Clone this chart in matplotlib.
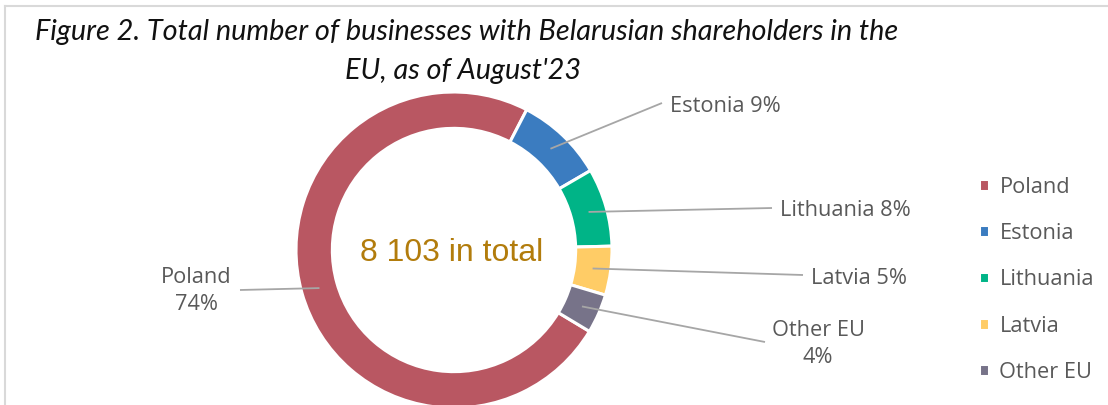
import numpy as np
import matplotlib
matplotlib.use("Agg")
import matplotlib.pyplot as plt

# data
countries = ["Poland", "Estonia", "Lithuania", "Latvia", "Other EU"]
shares = [74, 9, 8, 5, 4]
colors = ["#B95762", "#3B7CC0", "#00B487", "#FFCC66", "#777389"]
total_text = "8 103 in total"
title_lines = ["Figure 2. Total number of businesses with Belarusian shareholders in the",
               "EU, as of August'23"]

W, H = 1108, 405
fig = plt.figure(figsize=(W / 100, H / 100), dpi=100)
ax = fig.add_axes([0, 0, 1, 1])

# donut, in pixel-like data units (y up)
cx, cy, r = 454, H - 250, 158
ring = 0.23
start = -31  # first slice (Poland) starts here, clockwise

wedges, _ = ax.pie(shares, colors=colors, startangle=start, counterclock=False,
                   center=(cx, cy), radius=r,
                   wedgeprops=dict(width=r * ring, edgecolor="white", linewidth=2.2))

ax.set_xlim(0, W)
ax.set_ylim(0, H)
ax.set_aspect("auto")
ax.axis("off")

txt_color = "#595959"
line_color = "#A6A6A6"
lab_font = "Open Sans"
lab_size = 15.7

# label text position, leader end point, alignment
labels = [
    ("Poland\n74%", (196, 291), (240, 290), "center"),
    ("Estonia 9%", (670, 107), (662, 103), "left"),
    ("Lithuania 8%", (780, 211), (772, 208), "left"),
    ("Latvia 5%", (811, 278), (803, 275), "left"),
    ("Other EU\n4%", (818, 344), (765, 342), "center"),
]

for w, (lab, (tx, ty), (ex, ey), ha) in zip(wedges, labels):
    mid = np.deg2rad((w.theta1 + w.theta2) / 2)
    rr = r * (1 - ring / 2)
    px, py = cx + rr * np.cos(mid), cy + rr * np.sin(mid)
    ax.plot([px, ex], [py, H - ey], color=line_color, lw=1.3, solid_capstyle="butt")
    ax.text(tx, H - ty, lab, ha=ha, va="center", color=txt_color,
            fontsize=lab_size, family=lab_font, linespacing=1.35)

ax.text(cx - 2, H - 253, total_text, ha="center", va="center", color="#B27C0C",
        fontsize=23, family=["Liberation Sans Narrow", "Liberation Sans"])

for (tx, ty), line in zip([(467, 32), (463, 71)], title_lines):
    ax.text(tx, H - ty, line, ha="center", va="center", fontsize=20.8,
            style="italic", family="Lato", color="#111111")

# frame lines
ax.plot([5, W], [H - 6, H - 6], color="#D9D9D9", lw=1.5)
ax.plot([5, 5], [0, H - 6], color="#D9D9D9", lw=1.5)

# legend
leg = ax.legend(wedges, countries, loc="upper left", bbox_to_anchor=(970 / W, 1 - 168 / H),
                frameon=False, fontsize=lab_size, handlelength=0.45, handleheight=0.45,
                handletextpad=0.5, labelspacing=1.16, borderaxespad=0)
for t in leg.get_texts():
    t.set_color(txt_color)
    t.set_family(lab_font)

fig.savefig("out.png", dpi=100)
